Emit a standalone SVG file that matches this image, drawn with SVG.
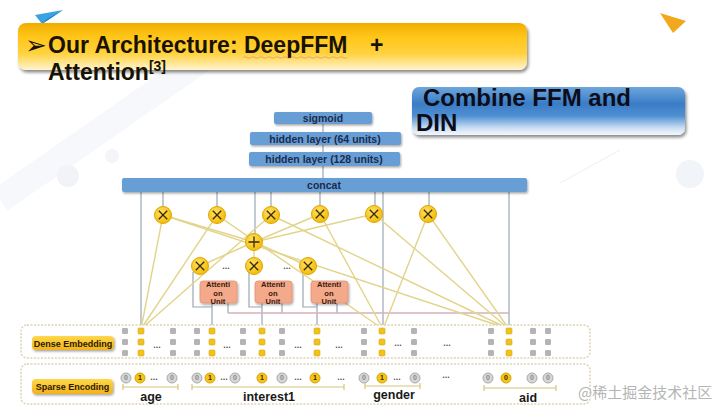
<svg xmlns="http://www.w3.org/2000/svg" xmlns:xlink="http://www.w3.org/1999/xlink" width="720" height="406" viewBox="0 0 720 406">
<defs>
<linearGradient id="gTitle" x1="0" y1="0" x2="0" y2="1">
<stop offset="0" stop-color="#f2ad00"/>
<stop offset="0.3" stop-color="#ffc61a"/>
<stop offset="0.65" stop-color="#ffd23f"/>
<stop offset="1" stop-color="#fff4d0"/>
</linearGradient>
<linearGradient id="gBlue" x1="0" y1="0" x2="0" y2="1">
<stop offset="0" stop-color="#6ea6dc"/>
<stop offset="0.35" stop-color="#3a7cc6"/>
<stop offset="0.6" stop-color="#4f8fd2"/>
<stop offset="0.85" stop-color="#c9ddf3"/>
<stop offset="1" stop-color="#f4f8fd"/>
</linearGradient>
<linearGradient id="gPill" x1="0" y1="0" x2="0" y2="1">
<stop offset="0" stop-color="#ffd84a"/>
<stop offset="1" stop-color="#f2b21a"/>
</linearGradient>
<radialGradient id="gNode" cx="0.4" cy="0.35" r="0.7">
<stop offset="0" stop-color="#ffe066"/>
<stop offset="1" stop-color="#f2bb00"/>
</radialGradient>
<filter id="sh" x="-10%" y="-20%" width="120%" height="160%">
<feDropShadow dx="1" dy="1.5" stdDeviation="1" flood-color="#000" flood-opacity="0.35"/>
</filter>
<filter id="shBig" x="-5%" y="-20%" width="110%" height="150%">
<feDropShadow dx="1.5" dy="2.5" stdDeviation="1.5" flood-color="#000" flood-opacity="0.45"/>
</filter>
<rect id="sqg" x="-3" y="-3" width="6" height="6" rx="1.2" fill="#b4b4b4"/>
<rect id="sqy" x="-3" y="-3" width="6" height="6" rx="1.2" fill="#f2c21c" stroke="#dca80a" stroke-width="0.6"/>
<g id="c0"><circle r="5" fill="#d6d6d6" stroke="#a9a9a9" stroke-width="1"/><text y="2.3" class="bit" fill="#8a8a8a">0</text></g>
<g id="c1"><circle r="5" fill="#f5c518" stroke="#d9a400" stroke-width="1"/><text y="2.3" class="bit" fill="#3a2a00">1</text></g>
<g id="cy0"><circle r="5" fill="#f5c518" stroke="#d9a400" stroke-width="1"/><text y="2.3" class="bit" fill="#3a2a00">0</text></g>
<g id="mul"><circle r="8.5" fill="url(#gNode)" stroke="#e0a400" stroke-width="1"/><path d="M-4.2,-4.2L4.2,4.2M4.2,-4.2L-4.2,4.2" stroke="#3a2a00" stroke-width="1.3"/></g>
</defs>
<style>
.t{font-family:"Liberation Sans",Arial,sans-serif;font-weight:bold}
.bit{font-family:"Liberation Sans",Arial,sans-serif;font-weight:bold;font-size:7px;text-anchor:middle}
.nbox{fill:#689ed6;filter:url(#sh)}
.ntx{font-family:"Liberation Sans",Arial,sans-serif;font-weight:bold;font-size:10.5px;fill:#1b2b4b;text-anchor:middle}
.au{fill:#f4aa8a;stroke:#e39274;stroke-width:0.8;filter:url(#sh)}
.aut{font-family:"Liberation Sans",Arial,sans-serif;font-weight:bold;font-size:7.6px;fill:#3a1a10;text-anchor:middle}
.gl{stroke:#9aa6b6;stroke-width:1.2;fill:none}
.yl{stroke:#e2d48a;stroke-width:1.4;fill:none}
.pk{stroke:#d4b2b8;stroke-width:1.3;fill:none}
.dots{font-family:"Liberation Sans",Arial,sans-serif;font-weight:bold;font-size:9px;fill:#555;text-anchor:middle}
.row{fill:#fff;stroke:#ddd2b2;stroke-width:1.5;stroke-dasharray:2 1.5}
.brk{stroke:#d8c47c;stroke-width:1.2;fill:none}
.fl{font-family:"Liberation Sans",Arial,sans-serif;font-weight:bold;font-size:12.5px;fill:#1a1a1a;text-anchor:middle}
</style>
<rect width="720" height="406" fill="#ffffff"/>
<g id="decor">
<path d="M0,200 L230,40" stroke="#f7f8fb" stroke-width="26"/>
<circle cx="68" cy="176" r="11" fill="#f1f3f8"/>
<circle cx="112" cy="156" r="7" fill="#f3f5f9"/>
<circle cx="690" cy="174" r="14" fill="#f1f4f9"/>
<path d="M560,183 L620,150" stroke="#eceef2" stroke-width="1"/>
<polygon points="35,15 63,10 42,24" fill="#3aa3e3"/>
<polygon points="42,24 63,10 47,19" fill="#1f7fc2"/>
<polygon points="660,13 686,21 673,33" fill="#f2a81d"/>
</g>
<g id="title">
<rect x="18" y="23" width="509" height="47" rx="8" fill="url(#gTitle)" filter="url(#shBig)"/>
<text x="25" y="54" font-family="DejaVu Sans,sans-serif" font-size="26" fill="#1a1200">➢</text>
<text x="48" y="53" class="t" font-size="23" fill="#1a1200">Our Architecture: DeepFFM<tspan x="370">+</tspan></text>
<path d="M243,57.5 q2,-1.5 4,0 t4,0 t4,0 t4,0 t4,0 t4,0 t4,0 t4,0 t4,0 t4,0 t4,0 t4,0 t4,0 t4,0 t4,0 t4,0 t4,0 t4,0 t4,0 t4,0 t4,0 t4,0 t4,0 t4,0 t4,0 t4,0" stroke="#d06060" stroke-width="0.7" fill="none" opacity="0.6"/>
<text x="48" y="80" class="t" font-size="23" fill="#1a1200">Attention<tspan dy="-9" font-size="14">[3]</tspan></text>
</g>
<g id="combine">
<rect x="412" y="87" width="273" height="48" rx="7" fill="url(#gBlue)" filter="url(#shBig)"/>
<text x="423" y="106" class="t" font-size="24" fill="#0d0d1a">Combine FFM and</text>
<text x="416" y="131" class="t" font-size="24" fill="#0d0d1a">DIN</text>
</g>
<g id="connectors">
<line class="gl" x1="323" y1="118" x2="323" y2="185"/>
<line class="gl" x1="163" y1="192" x2="163" y2="208"/>
<line class="gl" x1="217" y1="192" x2="217" y2="208"/>
<line class="gl" x1="271" y1="192" x2="271" y2="208"/>
<line class="gl" x1="320" y1="192" x2="320" y2="208"/>
<line class="gl" x1="375" y1="192" x2="375" y2="208"/>
<line class="gl" x1="429" y1="192" x2="429" y2="208"/>
<line class="gl" x1="255" y1="192" x2="255" y2="235"/>
<line class="gl" x1="141" y1="192" x2="141" y2="329"/>
<line class="gl" x1="383" y1="192" x2="383" y2="329"/>
<line class="gl" x1="509" y1="192" x2="509" y2="329"/>
<polyline class="gl" points="193,272 193,307 212,307"/>
<line class="gl" x1="212" y1="303" x2="212" y2="329"/>
<polyline class="gl" points="228,303 228,313"/>
<polyline class="gl" points="249,272 249,307 262,307"/>
<line class="gl" x1="262" y1="303" x2="262" y2="329"/>
<polyline class="gl" points="282,303 282,313"/>
<polyline class="gl" points="303,272 303,307 317,307"/>
<line class="gl" x1="317" y1="303" x2="317" y2="329"/>
<polyline class="gl" points="337,303 337,313"/>
<polyline class="pk" points="228,313 509,313"/>
<line class="yl" x1="254" y1="242" x2="200" y2="266"/>
<line class="yl" x1="254" y1="242" x2="254" y2="266"/>
<line class="yl" x1="254" y1="242" x2="308" y2="266"/>
<line class="yl" x1="141" y1="329" x2="163" y2="215"/>
<line class="yl" x1="141" y1="329" x2="217" y2="215"/>
<line class="yl" x1="141" y1="329" x2="271" y2="215"/>
<line class="yl" x1="163" y1="215" x2="254" y2="242"/>
<line class="yl" x1="163" y1="215" x2="509" y2="329"/>
<line class="yl" x1="217" y1="215" x2="383" y2="329"/>
<line class="yl" x1="271" y1="215" x2="509" y2="329"/>
<line class="yl" x1="320" y1="214" x2="254" y2="242"/>
<line class="yl" x1="320" y1="214" x2="383" y2="329"/>
<line class="yl" x1="374" y1="214" x2="254" y2="242"/>
<line class="yl" x1="374" y1="214" x2="509" y2="329"/>
<line class="yl" x1="428" y1="214" x2="383" y2="329"/>
<line class="yl" x1="428" y1="214" x2="509" y2="329"/>
</g>
<g id="sigmoid"><rect class="nbox" x="274" y="112" width="98" height="12" rx="2"/><text class="ntx" x="323" y="122">sigmoid</text></g>
<g id="hidden64"><rect class="nbox" x="250" y="132" width="151" height="13" rx="2"/><text class="ntx" x="325" y="142.5">hidden layer (64 units)</text></g>
<g id="hidden128"><rect class="nbox" x="249" y="152" width="151" height="14" rx="2"/><text class="ntx" x="324" y="163">hidden layer (128 units)</text></g>
<g id="concat"><rect class="nbox" x="122" y="178" width="405" height="14" rx="2"/><text class="ntx" x="324" y="189">concat</text></g>
<g id="mul1"><use href="#mul" x="163" y="215"/></g>
<g id="mul2"><use href="#mul" x="217" y="215"/></g>
<g id="mul3"><use href="#mul" x="271" y="215"/></g>
<g id="mul4"><use href="#mul" x="320" y="214"/></g>
<g id="mul5"><use href="#mul" x="374" y="214"/></g>
<g id="mul6"><use href="#mul" x="428" y="214"/></g>
<g id="sum"><circle cx="254" cy="242" r="8.5" fill="url(#gNode)" stroke="#e0a400" stroke-width="1"/><path d="M248.5,242H259.5M254,236.5V247.5" stroke="#3a2a00" stroke-width="1.3"/></g>
<g id="amul1"><use href="#mul" x="200" y="266"/></g>
<g id="amul2"><use href="#mul" x="254" y="266"/></g>
<g id="amul3"><use href="#mul" x="308" y="266"/></g>
<text class="dots" x="226" y="269">...</text>
<text class="dots" x="287" y="269">...</text>
<g id="att1"><rect class="au" x="200" y="281" width="37" height="22" rx="3"/><text class="aut" x="218" y="287">Attenti</text><text class="aut" x="218" y="295.5">on</text><text class="aut" x="218" y="304">Unit</text></g>
<g id="att2"><rect class="au" x="255" y="281" width="37" height="22" rx="3"/><text class="aut" x="273" y="287">Attenti</text><text class="aut" x="273" y="295.5">on</text><text class="aut" x="273" y="304">Unit</text></g>
<g id="att3"><rect class="au" x="311" y="281" width="37" height="22" rx="3"/><text class="aut" x="329" y="287">Attenti</text><text class="aut" x="329" y="295.5">on</text><text class="aut" x="329" y="304">Unit</text></g>
<g id="dense">
<rect class="row" x="21" y="325" width="569" height="33" rx="6"/>
<rect x="32" y="336" width="82" height="14" rx="4" fill="url(#gPill)" filter="url(#sh)"/>
<text x="73" y="346.5" class="t" font-size="9" fill="#2a1a00" text-anchor="middle">Dense Embedding</text>
<g>
<use href="#sqg" x="125" y="331"/><use href="#sqg" x="125" y="342"/><use href="#sqg" x="125" y="353"/>
<use href="#sqy" x="141" y="331"/><use href="#sqy" x="141" y="342"/><use href="#sqy" x="141" y="353"/>
<use href="#sqg" x="173" y="331"/><use href="#sqg" x="173" y="342"/><use href="#sqg" x="173" y="353"/>
<use href="#sqg" x="197" y="331"/><use href="#sqg" x="197" y="342"/><use href="#sqg" x="197" y="353"/>
<use href="#sqy" x="212" y="331"/><use href="#sqy" x="212" y="342"/><use href="#sqy" x="212" y="353"/>
<use href="#sqg" x="243" y="331"/><use href="#sqg" x="243" y="342"/><use href="#sqg" x="243" y="353"/>
<use href="#sqy" x="262" y="331"/><use href="#sqy" x="262" y="342"/><use href="#sqy" x="262" y="353"/>
<use href="#sqg" x="282" y="331"/><use href="#sqg" x="282" y="342"/><use href="#sqg" x="282" y="353"/>
<use href="#sqy" x="317" y="331"/><use href="#sqy" x="317" y="342"/><use href="#sqy" x="317" y="353"/>
<use href="#sqg" x="364" y="331"/><use href="#sqg" x="364" y="342"/><use href="#sqg" x="364" y="353"/>
<use href="#sqy" x="382" y="331"/><use href="#sqy" x="382" y="342"/><use href="#sqy" x="382" y="353"/>
<use href="#sqg" x="414" y="331"/><use href="#sqg" x="414" y="342"/><use href="#sqg" x="414" y="353"/>
<use href="#sqg" x="491" y="331"/><use href="#sqg" x="491" y="342"/><use href="#sqg" x="491" y="353"/>
<use href="#sqy" x="509" y="331"/><use href="#sqy" x="509" y="342"/><use href="#sqy" x="509" y="353"/>
<use href="#sqg" x="533" y="331"/><use href="#sqg" x="533" y="342"/><use href="#sqg" x="533" y="353"/>
<use href="#sqg" x="548" y="331"/><use href="#sqg" x="548" y="342"/><use href="#sqg" x="548" y="353"/>
</g>
<text class="dots" x="157" y="348">...</text>
<text class="dots" x="227" y="348">...</text>
<text class="dots" x="298" y="348">...</text>
<text class="dots" x="339" y="348">...</text>
<text class="dots" x="398" y="346">...</text>
<text class="dots" x="447" y="346">...</text>
</g>
<g id="sparse">
<rect class="row" x="21" y="364" width="569" height="40" rx="6"/>
<rect x="32" y="379" width="81" height="15" rx="4" fill="url(#gPill)" filter="url(#sh)"/>
<text x="72.5" y="390" class="t" font-size="9" fill="#2a1a00" text-anchor="middle">Sparse Encoding</text>
<use href="#c0" x="126" y="378"/><use href="#c1" x="140" y="378"/><use href="#c0" x="172" y="378"/>
<use href="#c0" x="197" y="378"/><use href="#c1" x="210" y="378"/><use href="#c0" x="235" y="378"/><use href="#c1" x="262" y="378"/><use href="#c0" x="282" y="378"/><use href="#c1" x="315" y="378"/>
<use href="#c0" x="364" y="378"/><use href="#c1" x="382" y="378"/><use href="#c0" x="415" y="378"/>
<use href="#c0" x="488" y="378"/><use href="#cy0" x="506" y="378"/><use href="#c0" x="532" y="378"/><use href="#c0" x="548" y="378"/>
<text class="dots" x="154" y="380">...</text>
<text class="dots" x="224" y="380">...</text>
<text class="dots" x="298" y="380">...</text>
<text class="dots" x="341" y="380">...</text>
<text class="dots" x="397" y="380">...</text>
<text class="dots" x="446" y="378">...</text>
<path class="brk" d="M123,384V390M123,387H178M178,384V390"/>
<path class="brk" d="M192,384V390M192,387H344M344,384V390"/>
<path class="brk" d="M365,383V389M365,386H420M420,383V389"/>
<path class="brk" d="M484,385V391M484,388H556M556,385V391"/>
<text class="fl" x="151" y="401">age</text>
<text class="fl" x="269" y="401">interest1</text>
<text class="fl" x="394" y="399">gender</text>
<text class="fl" x="528" y="402">aid</text>
</g>
<text x="578" y="398" font-family="Noto Sans CJK SC,sans-serif" font-size="15" fill="#b5b5b5">@稀土掘金技术社区</text>
</svg>
